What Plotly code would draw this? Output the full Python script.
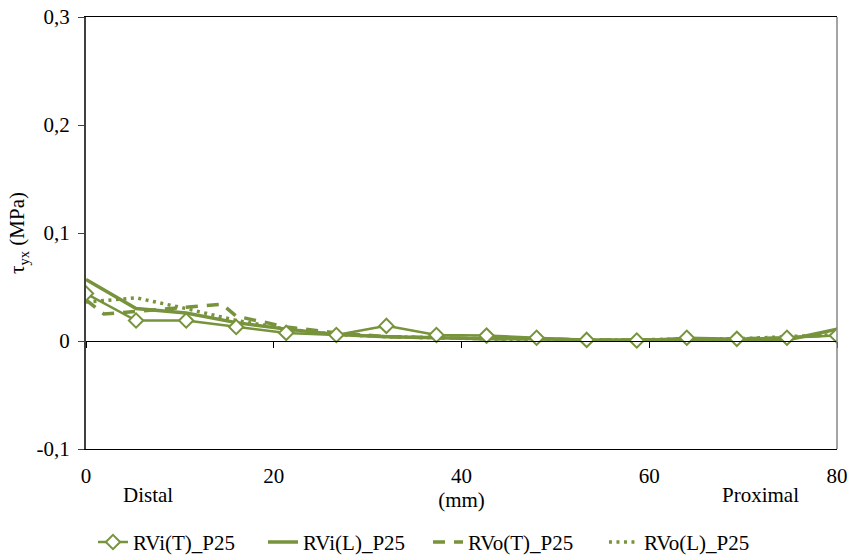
import plotly.graph_objects as go

# Position along the ventricle (mm), shared by the inner-wall series
x_pos = [0, 5.33, 10.67, 16, 21.33, 26.67, 32, 37.33, 42.67, 48, 53.33, 58.67, 64, 69.33, 74.67, 80]

# Shear stress tau_yx (MPa)
rvi_t = [0.044, 0.019, 0.019, 0.013, 0.0075, 0.0055, 0.014, 0.0055, 0.005, 0.003, 0.001, 0.0005, 0.003, 0.002, 0.003, 0.005]
rvi_l = [0.057, 0.030, 0.026, 0.017, 0.011, 0.006, 0.004, 0.003, 0.002, 0.002, 0.001, 0.001, 0.001, 0.001, 0.001, 0.011]

x_rvo_t = [0, 1.9, 14.5, 16, 21.33, 26.67, 32, 37.33, 42.67, 48, 53.33, 58.67, 64, 69.33, 74.67, 80]
rvo_t = [0.038, 0.025, 0.034, 0.023, 0.013, 0.0075, 0.004, 0.003, 0.002, 0.002, 0.001, 0.001, 0.001, 0.002, 0.003, 0.006]

rvo_l = [0.036, 0.040, 0.030, 0.019, 0.011, 0.006, 0.004, 0.003, 0.002, 0.001, 0.001, 0.001, 0.002, 0.002, 0.004, 0.006]

series_names = ["RVi(T)_P25", "RVi(L)_P25", "RVo(T)_P25", "RVo(L)_P25"]

y_ticks = [-0.1, 0, 0.1, 0.2, 0.3]
y_tick_text = ["-0,1", "0", "0,1", "0,2", "0,3"]
x_ticks = [0, 20, 40, 60, 80]

GREEN = "#77933C"
FONT = "'Liberation Serif', 'Times New Roman', serif"

fig = go.Figure()

fig.add_trace(go.Scatter(
    x=x_pos, y=rvi_l, name=series_names[1], mode="lines",
    line=dict(color=GREEN, width=3.5), legend="legend2"))
fig.add_trace(go.Scatter(
    x=x_rvo_t, y=rvo_t, name=series_names[2], mode="lines",
    line=dict(color=GREEN, width=3.5, dash="12px,9px"), legend="legend3"))
fig.add_trace(go.Scatter(
    x=x_pos, y=rvo_l, name=series_names[3], mode="lines",
    line=dict(color=GREEN, width=3.5, dash="3px,4.5px"), legend="legend4"))
fig.add_trace(go.Scatter(
    x=x_pos, y=rvi_t, name=series_names[0], mode="lines+markers",
    line=dict(color=GREEN, width=2.5),
    marker=dict(symbol="diamond", size=11, color="white",
                line=dict(color=GREEN, width=2)),
    legend="legend"))

# empty trace that carries the axis drawn along y = 0
fig.add_trace(go.Scatter(x=[None], y=[None], xaxis="x2", showlegend=False,
                         hoverinfo="skip", mode="lines"))

tick_font = dict(family=FONT, size=21, color="black")
legend_common = dict(orientation="h", yanchor="middle", y=-0.216, xanchor="left",
                     font=tick_font, bgcolor="rgba(0,0,0,0)", borderwidth=0)

fig.update_layout(
    width=850, height=557,
    margin=dict(l=86, r=13, t=17, b=108, autoexpand=False),
    paper_bgcolor="white", plot_bgcolor="white",
    font=dict(family=FONT, size=21, color="black"),
    xaxis=dict(range=[0, 80], tickvals=x_ticks, ticks="", showgrid=False,
               zeroline=False, showline=True, mirror=True, linecolor="black",
               linewidth=1, tickfont=tick_font, ticklabelstandoff=8,
               automargin=False,
               title=dict(text="(mm)", font=tick_font, standoff=2)),
    xaxis2=dict(range=[0, 80], overlaying="x", anchor="free", position=0.25,
                tickvals=x_ticks, ticks="outside", ticklen=6, tickcolor="black",
                tickwidth=1, showticklabels=False, showgrid=False, zeroline=False,
                showline=True, linecolor="black", linewidth=1),
    yaxis=dict(range=[-0.1, 0.3], tickvals=y_ticks, ticktext=y_tick_text,
               ticks="outside", ticklen=6, tickcolor="#404040", tickwidth=1,
               showgrid=False, zeroline=False, showline=True, linecolor="#404040",
               linewidth=2, tickfont=tick_font, ticklabelstandoff=4,
               automargin=False,
               title=dict(text="τ<sub>yx</sub> (MPa)", font=tick_font, standoff=6)),
    legend=dict(x=0.0093, **legend_common),
    legend2=dict(x=0.2357, **legend_common),
    legend3=dict(x=0.4554, **legend_common),
    legend4=dict(x=0.6897, **legend_common),
    shapes=[dict(type="line", xref="paper", yref="paper", x0=1, x1=1, y0=0, y1=1,
                 line=dict(color="#868686", width=1.5))],
    annotations=[
        dict(text="Distal", xref="paper", yref="paper", x=0.0826, y=-0.107,
             showarrow=False, font=tick_font, xanchor="center", yanchor="middle"),
        dict(text="Proximal", xref="paper", yref="paper", x=0.8975, y=-0.107,
             showarrow=False, font=tick_font, xanchor="center", yanchor="middle"),
    ],
    showlegend=True,
)

fig.write_html("out.html")
